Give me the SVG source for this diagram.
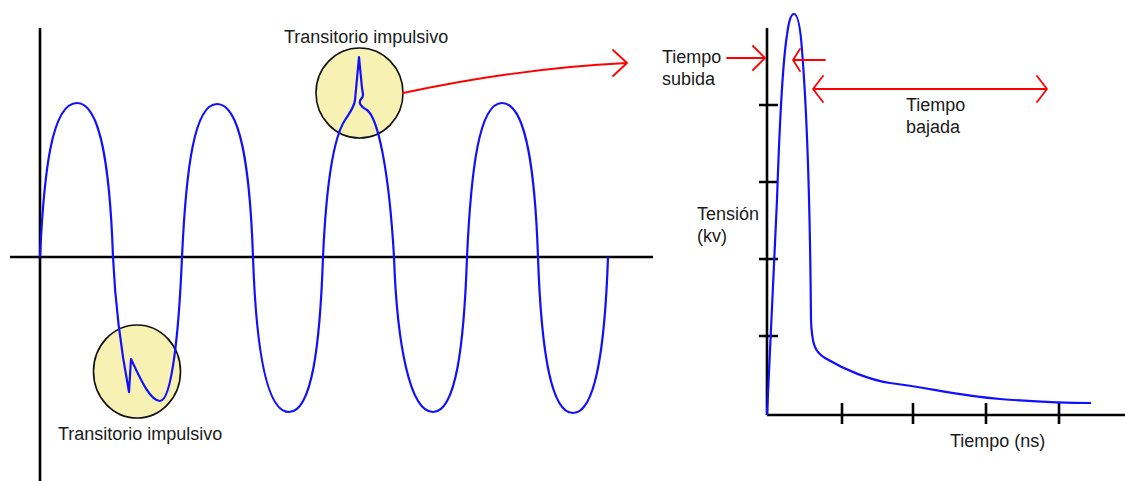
<svg xmlns="http://www.w3.org/2000/svg" width="1125" height="481" viewBox="0 0 1125 481">
<style>
.ax{stroke:#000;stroke-width:2.6;fill:none;stroke-linecap:butt}
.wave{stroke:#1010ff;stroke-width:2.2;fill:none;stroke-linejoin:round}
.red{stroke:#ff0000;stroke-width:1.8;fill:none;stroke-linecap:round;stroke-linejoin:round}
.hl{fill:#f7f1b3;stroke:#111;stroke-width:1.6}
.t{font-family:"Liberation Sans",Arial,sans-serif;font-size:18px;fill:#1a1a1a}
</style>
<rect width="1125" height="481" fill="#fff"/>
<g id="left-axes">
<line class="ax" x1="40" y1="28" x2="40" y2="481"/>
<line class="ax" x1="10" y1="257" x2="653" y2="257"/>
</g>
<g id="transient-circle-bottom"><ellipse class="hl" cx="137" cy="371.5" rx="43.5" ry="46.5"/></g>
<g id="transient-circle-top"><ellipse class="hl" cx="359.5" cy="93" rx="43.5" ry="45"/></g>
<g id="sine-wave">
<path class="wave" d="M40,257 C44,170 52,103 77,103 C101,103 110,170 113,257 C115,300 121,350 129,392 L131,359 C140,378 150,401 160,401 C172,401 179,330 182,257 C186,170 194,104 217,104 C241,104 250,170 253,257 C256,345 266,412 289,412 C312,412 320,345 323,257 C326,190 332,140 345,120 C350,112 354,108 355,100 L359,57 L362,88 C363,94 364,96 361,99 C358,103 361,107 367,110 C378,118 389,170 394,257 C397,345 410,412 433,412 C456,412 464,345 467,257 C471,170 479,103 502,103 C526,103 535,170 538,257 C541,345 550,413 573,413 C596,413 605,345 608,257"/>
</g>
<g id="label-top"><text class="t" x="284" y="43">Transitorio impulsivo</text></g>
<g id="label-bottom"><text class="t" x="58" y="440">Transitorio impulsivo</text></g>
<g id="right-axes">
<line class="ax" x1="767" y1="28" x2="767" y2="415"/>
<line class="ax" x1="767" y1="415" x2="1125" y2="415"/>
<path class="ax" d="M759,105 H778 M759,182 H778 M759,259 H778 M759,336 H778 M842,403 V424 M913,403 V424 M986,403 V424 M1059,403 V424"/>
</g>
<g id="pulse">
<path class="wave" d="M767,415 L777,200 C779,140 783,60 787,35 C789,20 791,14 794,14 C797,14 800,22 802,50 C806,100 810,200 811,320 C812,345 815,352 825,358 C845,370 870,380 890,383 C930,388 960,396 1000,399 C1040,402 1070,403 1091,403"/>
</g>
<g id="connectors">
<path class="red" d="M403,93 Q520,68 627,63 M613,50 L627,63 L613,76"/>
<path class="red" d="M727,58 H765 M753,46 L765,58 L753,70"/>
<path class="red" d="M825,60 H793 M800,49 L793,60 L800,71"/>
<path class="red" d="M813,89 H1047 M823,76 L813,89 L823,102 M1037,76 L1047,89 L1037,102"/>
</g>
<g id="label-subida"><text class="t" x="662" y="63">Tiempo</text><text class="t" x="662" y="85">subida</text></g>
<g id="label-bajada"><text class="t" x="906" y="111">Tiempo</text><text class="t" x="906" y="133">bajada</text></g>
<g id="label-tension"><text class="t" x="697" y="220">Tensión</text><text class="t" x="697" y="242">(kv)</text></g>
<g id="label-tiempo"><text class="t" x="950" y="447">Tiempo (ns)</text></g>
</svg>
